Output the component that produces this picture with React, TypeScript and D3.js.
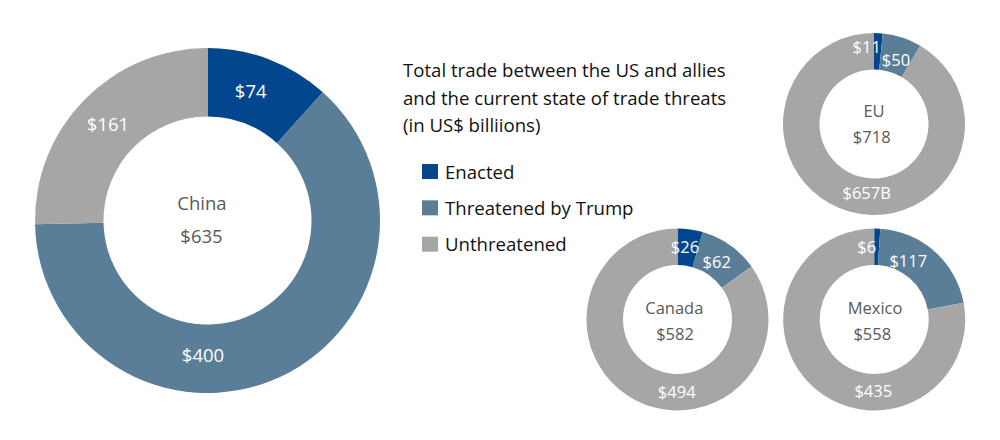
import React from "react";
import * as d3 from "d3";

// ---- data ----
const categories = ["Enacted", "Threatened by Trump", "Unthreatened"];
const regions = ["China", "EU", "Canada", "Mexico"];
const totals = [635, 718, 582, 558];
const enacted = [74, 11, 26, 6];
const threatened = [400, 50, 62, 117];
const unthreatened = [161, 657, 494, 435];
const unthreatenedSuffix = ["", "B", "", ""];
const titleLines = [
  "Total trade between the US and allies",
  "and the current state of trade threats",
  "(in US$ billiions)",
];

// ---- styling / layout ----
const colors = ["#02478d", "#5b7e98", "#a6a6a6"];
const W = 1000;
const H = 440;

type Layout = {
  cx: number;
  cy: number;
  r0: number;
  r1: number;
  fs: number;
  nameFs: number;
  name: [number, number];
  total: [number, number];
  labels: [number, number][]; // offsets (dx, baseline dy) for enacted, threatened, unthreatened
};

const layouts: Layout[] = [
  {
    cx: 207.5, cy: 220.5, r0: 104, r1: 172.5, fs: 18.5, nameFs: 18.5,
    name: [-5.5, -10.5], total: [-6, 22],
    labels: [[43.2, -122.2], [-4.5, 141.8], [-99.5, -89.8]],
  },
  {
    cx: 874, cy: 124, r0: 54.5, r1: 91, fs: 16.5, nameFs: 16.5,
    name: [0, -7.3], total: [-2.3, 18.7],
    labels: [[-7.3, -71.3], [22, -58.3], [-7.3, 75.3]],
  },
  {
    cx: 677.5, cy: 319.5, r0: 54.5, r1: 91, fs: 16.5, nameFs: 16.5,
    name: [-3.2, -5.5], total: [-2.5, 20.5],
    labels: [[7.5, -66.2], [39.2, -51.2], [-0.8, 78.2]],
  },
  {
    cx: 874.2, cy: 319.5, r0: 54.5, r1: 91, fs: 16.5, nameFs: 16.5,
    name: [0.8, -5.5], total: [-1.9, 20.5],
    labels: [[-7.5, -66.8], [34.1, -52.8], [-0.9, 77.2]],
  },
];

const pie = d3.pie<number>().sort(null).value((d) => d);

function Donut({ i }: { i: number }) {
  const L = layouts[i];
  const values = [enacted[i], threatened[i], unthreatened[i]];
  const arcs = pie(values);
  const arc = d3.arc<d3.PieArcDatum<number>>().innerRadius(L.r0).outerRadius(L.r1);
  const labelTexts = values.map((v, k) => `$${v}${k === 2 ? unthreatenedSuffix[i] : ""}`);
  return (
    <g transform={`translate(${L.cx},${L.cy})`}>
      {arcs.map((a, k) => (
        <path key={k} d={arc(a) || ""} fill={colors[k]} />
      ))}
      {labelTexts.map((t, k) => (
        <text
          key={k}
          x={L.labels[k][0]}
          y={L.labels[k][1]}
          textAnchor="middle"
          fill="#ffffff"
          fontSize={L.fs}
        >
          {t}
        </text>
      ))}
      <text x={L.name[0]} y={L.name[1]} textAnchor="middle" fill="#595959" fontSize={L.nameFs}>
        {regions[i]}
      </text>
      <text x={L.total[0]} y={L.total[1]} textAnchor="middle" fill="#595959" fontSize={L.nameFs}>
        {`$${totals[i]}`}
      </text>
    </g>
  );
}

export default function App() {
  const legendY = d3.scaleBand<string>().domain(categories).range([161, 270]).paddingInner(0);
  return (
    <svg
      width={W}
      height={H}
      style={{ position: "absolute", left: 0, top: 0, background: "#fff" }}
      fontFamily="'Open Sans', 'Noto Sans', sans-serif"
    >
      {regions.map((_, i) => (
        <Donut key={i} i={i} />
      ))}
      <g>
        {titleLines.map((t, k) => (
          <text key={k} x={403} y={77 + k * 27.5} fontSize={18.6} fill="#111">
            {t}
          </text>
        ))}
      </g>
      <g>
        {categories.map((c, k) => {
          const y = legendY(c)!;
          return (
            <g key={c} transform={`translate(422,${y})`}>
              <rect x={0} y={3} width={16} height={15} fill={colors[k]} />
              <text x={23} y={17.5} fontSize={18.6} fill="#111">
                {c}
              </text>
            </g>
          );
        })}
      </g>
    </svg>
  );
}
